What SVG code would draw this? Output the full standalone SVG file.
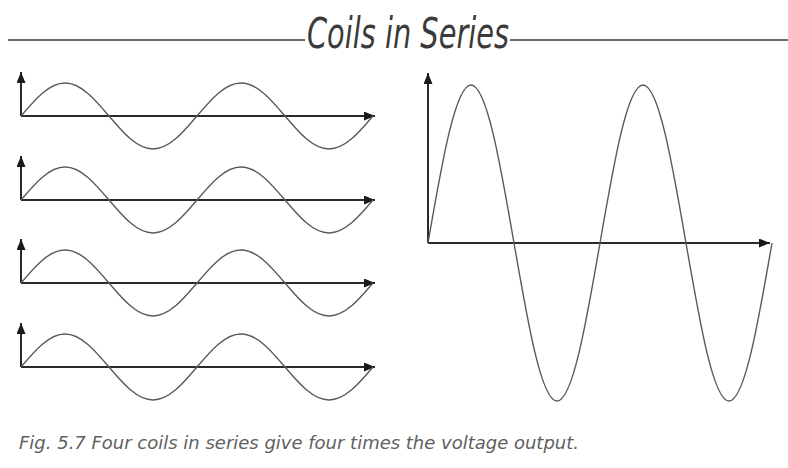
<svg xmlns="http://www.w3.org/2000/svg" xmlns:xlink="http://www.w3.org/1999/xlink" width="788" height="468" viewBox="0 0 788 468">
  <style>
    .axis { stroke: #2a2a2a; stroke-width: 2; fill: none; }
    .wave { stroke: #5a5a5a; stroke-width: 1.4; fill: none; }
    .rule { stroke: #3a3a3a; stroke-width: 1.3; }
    .title { font-family: "DejaVu Sans", "Liberation Sans", sans-serif; font-weight: 200; font-style: italic; font-size: 43px; fill: #3a3a3a; }
    .caption { font-family: "DejaVu Sans", "Liberation Sans", sans-serif; font-weight: 200; font-style: italic; font-size: 18px; fill: #606060; }
  </style>
  <defs>
    <marker id="arr" viewBox="0 0 11 9" refX="11" refY="4.5" markerWidth="11" markerHeight="9" markerUnits="userSpaceOnUse" orient="auto">
      <path d="M0,0 L11,4.5 L0,9 Z" fill="#1a1a1a"/>
    </marker>
    <path id="smallWave" class="wave" d="M0,0 C14.3,-16.9 28.1,-33 44,-33 C59.9,-33 73.7,-16.9 88,0 C102.3,16.9 116.1,33 132,33 C147.9,33 161.7,16.9 176,0 C190.3,-16.9 204.1,-33 220,-33 C235.9,-33 249.7,-16.9 264,0 C278.3,16.9 292.1,33 308,33 C323.9,33 337.7,16.9 352,0"/>
    <g id="smallAxes">
      <line class="axis" x1="0" y1="0" x2="0" y2="-44" marker-end="url(#arr)"/>
      <line class="axis" x1="0" y1="0" x2="354" y2="0" marker-end="url(#arr)"/>
    </g>
  </defs>

  <g id="title">
    <line class="rule" x1="8" y1="40" x2="305" y2="40"/>
    <text class="title" x="307" y="48" textLength="202" lengthAdjust="spacingAndGlyphs">Coils in Series</text>
    <line class="rule" x1="510" y1="40" x2="788" y2="40"/>
  </g>

  <g id="coil1" transform="translate(21,116)">
    <use xlink:href="#smallAxes" href="#smallAxes"/>
    <use xlink:href="#smallWave" href="#smallWave"/>
  </g>
  <g id="coil2" transform="translate(21,200)">
    <use xlink:href="#smallAxes" href="#smallAxes"/>
    <use xlink:href="#smallWave" href="#smallWave"/>
  </g>
  <g id="coil3" transform="translate(21,283)">
    <use xlink:href="#smallAxes" href="#smallAxes"/>
    <use xlink:href="#smallWave" href="#smallWave"/>
  </g>
  <g id="coil4" transform="translate(21,367)">
    <use xlink:href="#smallAxes" href="#smallAxes"/>
    <use xlink:href="#smallWave" href="#smallWave"/>
  </g>

  <g id="output" transform="translate(428,243)">
    <line class="axis" x1="0" y1="0" x2="0" y2="-170" marker-end="url(#arr)"/>
    <line class="axis" x1="0" y1="0" x2="342" y2="0" marker-end="url(#arr)"/>
    <path class="wave" d="M0,0 C14,-80.9 27.4,-158 43,-158 C58.6,-158 72,-80.9 86,0 C100,80.9 113.4,158 129,158 C144.6,158 158,80.9 172,0 C186,-80.9 199.4,-158 215,-158 C230.6,-158 244,-80.9 258,0 C272,80.9 285.4,158 301,158 C316.6,158 330,80.9 344,0"/>
  </g>

  <g id="caption">
    <text class="caption" x="19" y="449" textLength="560" lengthAdjust="spacingAndGlyphs">Fig. 5.7 Four coils in series give four times the voltage output.</text>
  </g>
</svg>
